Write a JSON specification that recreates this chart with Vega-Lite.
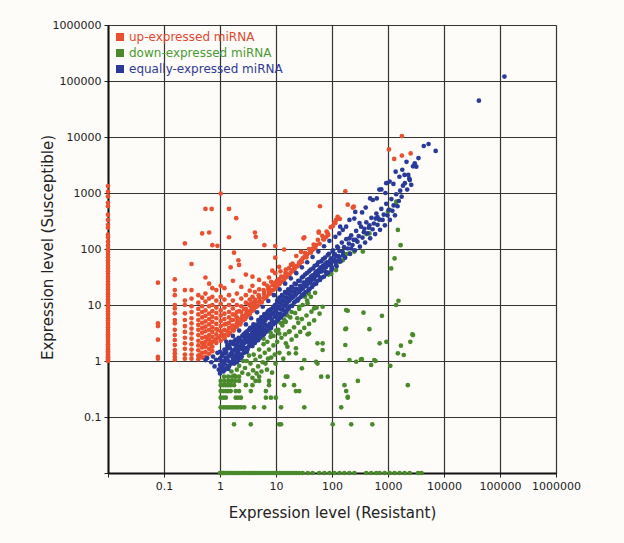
{
"$schema": "https://vega.github.io/schema/vega-lite/v6.json",
"width": 448, "height": 448,
"autosize": {"type": "none"},
"padding": {"left": 108, "top": 25, "right": 68, "bottom": 70},
"background": "#fdfcf9",
"config": {"view": {"stroke": null}, "font": "DejaVu Sans",
 "axis": {"labelFontSize": 11, "labelColor": "#222", "tickSize": 4, "tickColor": "#222", "domainColor": "#111", "domainWidth": 2, "gridColor": "#333", "gridWidth": 1.2, "gridOpacity": 1, "labelFlush": false, "labelPadding": 3, "titleFontSize": 15, "titleFontWeight": "normal", "titleColor": "#222"}},
"encoding": {
 "x": {"field": "x", "type": "quantitative", "scale": {"type": "log", "domain": [0.01, 1000000], "nice": false},
  "axis": {"title": "Expression level (Resistant)", "values": [0.01,0.1,1,10,100,1000,10000,100000,1000000], "format": "~f", "labelExpr": "datum.value < 0.05 ? '' : datum.label", "titlePadding": 14}},
 "y": {"field": "y", "type": "quantitative", "scale": {"type": "log", "domain": [0.01, 1000000], "nice": false},
  "axis": {"title": "Expression level (Susceptible)", "values": [0.01,0.1,1,10,100,1000,10000,100000,1000000], "format": "~f", "labelExpr": "datum.value < 0.05 ? '' : datum.label", "titleX": -53, "titleY": 222, "titleAngle": 270, "titleBaseline": "bottom", "titleAlign": "center"}}
},
"layer": [
{"data": {"values": [
{"x":0.01,"y":1},{"x":0.01,"y":1.05},{"x":0.01,"y":1.1},{"x":0.01,"y":1.15},{"x":0.01,"y":1.2},{"x":0.01,"y":1.3},{"x":0.01,"y":1.4},{"x":0.01,"y":1.5},{"x":0.01,"y":1.6},{"x":0.01,"y":1.7},{"x":0.01,"y":1.85},{"x":0.01,"y":2},{"x":0.01,"y":2.2},{"x":0.01,"y":2.4},{"x":0.01,"y":2.6},{"x":0.01,"y":2.8},{"x":0.01,"y":3},{"x":0.01,"y":3.3},{"x":0.01,"y":3.6},{"x":0.01,"y":4},{"x":0.01,"y":4.4},{"x":0.01,"y":4.8},{"x":0.01,"y":5.3},{"x":0.01,"y":5.8},{"x":0.01,"y":6.4},{"x":0.01,"y":7},{"x":0.01,"y":7.7},{"x":0.01,"y":8.5},{"x":0.01,"y":9.3},{"x":0.01,"y":10.2},{"x":0.01,"y":11.3},{"x":0.01,"y":12.5},{"x":0.01,"y":14},{"x":0.01,"y":15.5},{"x":0.01,"y":17},{"x":0.01,"y":19},{"x":0.01,"y":21},{"x":0.01,"y":23.5},{"x":0.01,"y":26},{"x":0.01,"y":29},{"x":0.01,"y":32},{"x":0.01,"y":36},{"x":0.01,"y":40},{"x":0.01,"y":45},{"x":0.01,"y":50},{"x":0.01,"y":56},{"x":0.01,"y":63},{"x":0.01,"y":71},{"x":0.01,"y":80},{"x":0.01,"y":90},{"x":0.01,"y":100},{"x":0.01,"y":115},{"x":0.01,"y":135},{"x":0.01,"y":160},{"x":0.01,"y":180},{"x":0.01,"y":240},{"x":0.01,"y":270},{"x":0.01,"y":330},{"x":0.01,"y":410},{"x":0.01,"y":580},{"x":0.01,"y":670},{"x":0.01,"y":870},{"x":0.01,"y":1060},{"x":0.01,"y":1330},
{"x":0.078,"y":25},{"x":0.078,"y":4.7},{"x":0.078,"y":4.2},{"x":0.078,"y":2.4},{"x":0.078,"y":1.19},{"x":0.078,"y":1.1},
{"x":0.156,"y":28.7},{"x":0.156,"y":18.5},{"x":0.156,"y":15},{"x":0.156,"y":10},{"x":0.156,"y":8.7},{"x":0.156,"y":7.1},{"x":0.156,"y":5.4},{"x":0.156,"y":4.7},{"x":0.156,"y":3.6},{"x":0.156,"y":2.9},{"x":0.156,"y":2.37},{"x":0.156,"y":1.93},{"x":0.156,"y":1.57},{"x":0.156,"y":1.37},{"x":0.156,"y":1.19},{"x":0.156,"y":1.05},
{"x":0.236,"y":126},{"x":0.236,"y":18.5},{"x":0.236,"y":12},{"x":0.236,"y":10},{"x":0.236,"y":7.1},{"x":0.236,"y":5.4},{"x":0.236,"y":4.2},{"x":0.236,"y":3.3},{"x":0.236,"y":2.6},{"x":0.236,"y":2.07},{"x":0.236,"y":1.65},{"x":0.236,"y":1.3},{"x":0.236,"y":1.1},
{"x":0.31,"y":54},{"x":0.31,"y":18.5},{"x":0.31,"y":13},{"x":0.31,"y":9.5},{"x":0.31,"y":7.5},{"x":0.31,"y":5.8},{"x":0.31,"y":4.7},{"x":0.31,"y":3.8},{"x":0.31,"y":3.1},{"x":0.31,"y":2.5},{"x":0.31,"y":2},{"x":0.31,"y":1.6},{"x":0.31,"y":1.3},{"x":0.31,"y":1.1},
{"x":0.41,"y":15},{"x":0.41,"y":11},{"x":0.41,"y":8.5},{"x":0.41,"y":6.8},{"x":0.41,"y":5.4},{"x":0.41,"y":4.4},{"x":0.41,"y":3.6},{"x":0.41,"y":2.9},{"x":0.41,"y":2.3},{"x":0.41,"y":1.9},{"x":0.41,"y":1.55},{"x":0.41,"y":1.25},{"x":0.41,"y":1.08},
{"x":0.48,"y":190},{"x":0.48,"y":13.5},{"x":0.48,"y":9.5},{"x":0.48,"y":7.5},{"x":0.48,"y":6},{"x":0.48,"y":4.8},{"x":0.48,"y":3.9},{"x":0.48,"y":3.2},{"x":0.48,"y":2.6},{"x":0.48,"y":2.1},{"x":0.48,"y":1.75},{"x":0.48,"y":1.4},{"x":0.48,"y":1.15},
{"x":0.55,"y":520},{"x":0.55,"y":31},{"x":0.55,"y":16},{"x":0.55,"y":11.5},{"x":0.55,"y":8},{"x":0.55,"y":6.4},{"x":0.55,"y":5.1},{"x":0.55,"y":4.1},{"x":0.55,"y":3.4},{"x":0.55,"y":2.7},{"x":0.55,"y":2.2},{"x":0.55,"y":1.8},{"x":0.55,"y":1.45},{"x":0.55,"y":1.2},
{"x":0.64,"y":197},{"x":0.64,"y":24},{"x":0.64,"y":13},{"x":0.64,"y":9.5},{"x":0.64,"y":7},{"x":0.64,"y":5.6},{"x":0.64,"y":4.5},{"x":0.64,"y":3.6},{"x":0.64,"y":2.9},{"x":0.64,"y":2.4},{"x":0.64,"y":2},{"x":0.64,"y":1.65},{"x":0.64,"y":1.35},
{"x":0.71,"y":520},
{"x":0.73,"y":117},{"x":0.73,"y":20},{"x":0.73,"y":14},{"x":0.73,"y":10},{"x":0.73,"y":7.8},{"x":0.73,"y":6.2},{"x":0.73,"y":5},{"x":0.73,"y":4},{"x":0.73,"y":3.3},{"x":0.73,"y":2.7},{"x":0.73,"y":2.2},{"x":0.73,"y":1.8},{"x":0.73,"y":1.5},
{"x":0.86,"y":18.5},{"x":0.86,"y":12},{"x":0.86,"y":9},{"x":0.86,"y":7.2},{"x":0.86,"y":5.8},{"x":0.86,"y":4.6},{"x":0.86,"y":3.7},{"x":0.86,"y":3},{"x":0.86,"y":2.5},{"x":0.86,"y":2.1},
{"x":0.9,"y":114},
{"x":1.03,"y":980},{"x":1.03,"y":22},{"x":1.03,"y":14},{"x":1.03,"y":10.5},{"x":1.03,"y":8},{"x":1.03,"y":6.5},{"x":1.03,"y":5.2},{"x":1.03,"y":4.2},{"x":1.03,"y":3.4},{"x":1.03,"y":2.8},{"x":1.03,"y":2.3},
{"x":1.2,"y":20},{"x":1.2,"y":12.5},{"x":1.2,"y":9},{"x":1.2,"y":7},{"x":1.2,"y":5.6},{"x":1.2,"y":4.5},{"x":1.2,"y":3.6},{"x":1.2,"y":2.9},{"x":1.2,"y":2.5},
{"x":1.45,"y":520},{"x":1.45,"y":162},{"x":1.45,"y":15},{"x":1.45,"y":10},{"x":1.45,"y":7.5},{"x":1.45,"y":6},{"x":1.45,"y":4.8},{"x":1.45,"y":3.9},{"x":1.45,"y":3.1},
{"x":1.55,"y":47},
{"x":1.7,"y":27},{"x":1.7,"y":12},{"x":1.7,"y":8.7},{"x":1.7,"y":6.8},{"x":1.7,"y":5.4},{"x":1.7,"y":4.3},{"x":1.7,"y":3.6},
{"x":1.78,"y":86},{"x":1.95,"y":355},
{"x":2,"y":16},{"x":2,"y":10},{"x":2,"y":7.5},{"x":2,"y":6},{"x":2,"y":4.7},{"x":2,"y":4.1},
{"x":2.13,"y":63},{"x":2.19,"y":52},
{"x":2.4,"y":21},{"x":2.4,"y":13},{"x":2.4,"y":9.5},{"x":2.4,"y":7.5},{"x":2.4,"y":5.8},{"x":2.4,"y":5},
{"x":2.9,"y":35},{"x":2.9,"y":15},{"x":2.9,"y":11},{"x":2.9,"y":8.5},{"x":2.9,"y":6.8},{"x":2.9,"y":6},
{"x":3.4,"y":18},{"x":3.4,"y":12.5},{"x":3.4,"y":9.8},{"x":3.4,"y":7.8},{"x":3.4,"y":7},
{"x":3.8,"y":32},{"x":3.8,"y":22},{"x":3.8,"y":14},{"x":3.8,"y":11},{"x":3.8,"y":9},
{"x":4.2,"y":197},{"x":4.2,"y":17},{"x":4.2,"y":12.5},{"x":4.2,"y":10},{"x":4.35,"y":165},
{"x":5,"y":28},{"x":5,"y":19},{"x":5,"y":14},{"x":5,"y":11.5},
{"x":6.2,"y":117},{"x":6.15,"y":24},{"x":6.15,"y":17},{"x":6.15,"y":13.5},
{"x":7.5,"y":20},{"x":7.5,"y":31},{"x":7.5,"y":17.5},{"x":8.6,"y":41},
{"x":9.7,"y":113},{"x":9.7,"y":70},{"x":9.7,"y":37},{"x":9.7,"y":25},{"x":9.7,"y":21},
{"x":11.4,"y":29},{"x":11.4,"y":48},{"x":12,"y":26},{"x":12,"y":40},{"x":14,"y":98},{"x":14,"y":32},{"x":14,"y":29},{"x":15,"y":43},{"x":15,"y":36},{"x":17,"y":34},{"x":17,"y":45},{"x":18.5,"y":52},{"x":19.7,"y":55},{"x":19.7,"y":42},{"x":21,"y":48},{"x":23,"y":75},{"x":23,"y":50},{"x":26,"y":58},{"x":28,"y":89},{"x":28,"y":62},{"x":30,"y":68},{"x":31,"y":155},{"x":32,"y":162},{"x":32,"y":72},{"x":36,"y":80},{"x":41,"y":90},{"x":45,"y":96},{"x":45,"y":102},{"x":52,"y":117},{"x":58,"y":195},{"x":58,"y":205},{"x":61,"y":580},{"x":70,"y":150},{"x":79,"y":165},{"x":84,"y":190},{"x":103,"y":255},{"x":110,"y":295},{"x":118,"y":330},{"x":126,"y":375},{"x":173,"y":1070},{"x":191,"y":620},{"x":235,"y":550},{"x":245,"y":570},{"x":1040,"y":6000},{"x":1290,"y":4060},{"x":1770,"y":10400},{"x":1770,"y":4650},{"x":2540,"y":5100},
{"x":1.2,"y":2.6},{"x":1.5,"y":3.2},{"x":1.8,"y":3.8},{"x":2.2,"y":4.6},{"x":2.6,"y":5.4},{"x":3.1,"y":6.5},{"x":3.7,"y":7.8},{"x":4.4,"y":9.2},{"x":5.2,"y":11},{"x":6.2,"y":13},{"x":7.4,"y":15.5},{"x":8.8,"y":18.5},{"x":10.5,"y":22},{"x":12.5,"y":26},{"x":15,"y":31},{"x":18,"y":37},{"x":21.5,"y":44},{"x":26,"y":53},
{"x":1.35,"y":3.4},{"x":1.65,"y":4.2},{"x":2.05,"y":5.3},{"x":2.5,"y":6.4},{"x":3,"y":7.6},{"x":3.6,"y":9.2},{"x":4.3,"y":11},{"x":5.1,"y":13.2},{"x":6.1,"y":15.8},{"x":7.3,"y":19},{"x":8.7,"y":22.5},{"x":10.4,"y":27},{"x":12.4,"y":32},{"x":14.8,"y":38},
{"x":1.1,"y":3},{"x":0.95,"y":2.6},{"x":0.8,"y":2.3},{"x":0.68,"y":2},{"x":1.4,"y":2.9},{"x":1.75,"y":3.5},{"x":2.3,"y":4.5},{"x":2.8,"y":5.6},{"x":3.4,"y":6.9},{"x":4,"y":8.2},{"x":4.7,"y":9.6},{"x":5.6,"y":11.3},{"x":6.7,"y":13.7},{"x":8,"y":16.2},{"x":9.6,"y":19.5},{"x":11.5,"y":23.5},{"x":13.8,"y":28},{"x":16.5,"y":34},{"x":19.8,"y":40.5},{"x":24,"y":49},{"x":29,"y":59},{"x":35,"y":71},{"x":42,"y":86},{"x":50,"y":103},{"x":60,"y":124},{"x":72,"y":148},{"x":86,"y":178},
{"x":33,"y":85},{"x":39,"y":100},{"x":47,"y":120},{"x":56,"y":145},{"x":67,"y":172},{"x":80,"y":205},{"x":95,"y":245},{"x":115,"y":290},{"x":138,"y":345},
{"x":2.7,"y":8.5},{"x":3.3,"y":10.3},{"x":4.9,"y":15},{"x":6,"y":18.5},{"x":7,"y":22},{"x":8.2,"y":26},{"x":1.6,"y":5.4},{"x":1.9,"y":6.5},{"x":2.2,"y":7.8},{"x":1.3,"y":4.6},{"x":0.9,"y":3.6},{"x":0.6,"y":2.5},{"x":0.52,"y":1.9},{"x":0.45,"y":1.3}
]},
 "mark": {"type": "circle", "size": 22, "opacity": 1},
 "encoding": {"color": {"datum": "up-expressed miRNA", "type": "nominal",
  "scale": {"domain": ["up-expressed miRNA", "down-expressed miRNA", "equally-expressed miRNA"], "range": ["#e8502f", "#4a8a2c", "#2a3a98"]},
  "legend": {"title": null, "orient": "top-left", "offset": 6, "symbolType": "square", "symbolSize": 64, "symbolStrokeWidth": 0, "labelFontSize": 12, "labelFont": "DejaVu Sans", "rowPadding": 4, "labelOffset": 3, "padding": 0,
   "labelColor": {"expr": "datum.value == 'up-expressed miRNA' ? '#e0472e' : datum.value == 'down-expressed miRNA' ? '#4c9a34' : '#2e3a92'"}}}}
},
{"data": {"values": [
{"x":1,"y":0.01},{"x":1.05,"y":0.01},{"x":1.1,"y":0.01},{"x":1.15,"y":0.01},{"x":1.2,"y":0.01},{"x":1.27,"y":0.01},{"x":1.35,"y":0.01},{"x":1.45,"y":0.01},{"x":1.55,"y":0.01},{"x":1.65,"y":0.01},{"x":1.75,"y":0.01},{"x":1.9,"y":0.01},{"x":2.05,"y":0.01},{"x":2.2,"y":0.01},{"x":2.4,"y":0.01},{"x":2.6,"y":0.01},{"x":2.8,"y":0.01},{"x":3,"y":0.01},{"x":3.3,"y":0.01},{"x":3.6,"y":0.01},{"x":3.9,"y":0.01},{"x":4.3,"y":0.01},{"x":4.7,"y":0.01},{"x":5.1,"y":0.01},{"x":5.6,"y":0.01},{"x":6.1,"y":0.01},{"x":6.7,"y":0.01},{"x":7.3,"y":0.01},{"x":8,"y":0.01},{"x":8.8,"y":0.01},{"x":9.6,"y":0.01},{"x":10.5,"y":0.01},{"x":11.5,"y":0.01},{"x":12.7,"y":0.01},{"x":14,"y":0.01},{"x":15.5,"y":0.01},{"x":17,"y":0.01},{"x":19,"y":0.01},{"x":21,"y":0.01},{"x":23,"y":0.01},{"x":26,"y":0.01},{"x":30,"y":0.01},{"x":37,"y":0.01},{"x":45,"y":0.01},{"x":59,"y":0.01},{"x":73,"y":0.01},{"x":90,"y":0.01},{"x":110,"y":0.01},{"x":136,"y":0.01},{"x":166,"y":0.01},{"x":204,"y":0.01},{"x":251,"y":0.01},{"x":408,"y":0.01},{"x":500,"y":0.01},{"x":616,"y":0.01},{"x":709,"y":0.01},{"x":871,"y":0.01},{"x":1070,"y":0.01},{"x":1310,"y":0.01},{"x":1610,"y":0.01},{"x":1980,"y":0.01},{"x":2440,"y":0.01},{"x":3440,"y":0.01},{"x":3950,"y":0.01},
{"x":1.78,"y":0.074},{"x":3.55,"y":0.074},{"x":11.4,"y":0.074},{"x":12.3,"y":0.074},{"x":103,"y":0.074},{"x":220,"y":0.074},{"x":525,"y":0.074},
{"x":1.03,"y":0.149},{"x":1.15,"y":0.149},{"x":1.27,"y":0.149},{"x":1.4,"y":0.149},{"x":1.55,"y":0.149},{"x":1.72,"y":0.149},{"x":1.91,"y":0.149},{"x":2.1,"y":0.149},{"x":2.36,"y":0.149},{"x":2.7,"y":0.149},{"x":4.06,"y":0.149},{"x":6.15,"y":0.149},{"x":12.3,"y":0.149},{"x":32,"y":0.149},{"x":146,"y":0.149},
{"x":1.03,"y":0.221},{"x":1.15,"y":0.221},{"x":1.27,"y":0.221},{"x":1.91,"y":0.221},{"x":2.1,"y":0.221},{"x":2.36,"y":0.221},{"x":6.6,"y":0.221},{"x":8.1,"y":0.221},{"x":9.9,"y":0.221},{"x":191,"y":0.221},
{"x":1.03,"y":0.29},{"x":1.15,"y":0.29},{"x":1.27,"y":0.29},{"x":1.4,"y":0.29},{"x":1.55,"y":0.29},{"x":1.91,"y":0.29},{"x":2.19,"y":0.29},{"x":3.55,"y":0.29},{"x":6.6,"y":0.29},{"x":22.7,"y":0.29},{"x":26,"y":0.29},{"x":179,"y":0.29},
{"x":1.03,"y":0.37},{"x":1.15,"y":0.37},{"x":1.27,"y":0.37},{"x":1.4,"y":0.37},{"x":1.55,"y":0.37},{"x":1.78,"y":0.37},{"x":2.9,"y":0.37},{"x":3.8,"y":0.37},{"x":7.5,"y":0.37},{"x":14,"y":0.37},{"x":21,"y":0.37},{"x":167,"y":0.37},{"x":2260,"y":0.37},
{"x":1.03,"y":0.44},{"x":1.2,"y":0.44},{"x":1.4,"y":0.44},{"x":1.6,"y":0.44},{"x":1.85,"y":0.44},{"x":2.19,"y":0.44},{"x":4.3,"y":0.44},{"x":5,"y":0.44},{"x":7.5,"y":0.44},{"x":290,"y":0.44},
{"x":1.18,"y":0.525},{"x":1.4,"y":0.525},{"x":1.65,"y":0.525},{"x":1.9,"y":0.525},{"x":2.19,"y":0.525},{"x":5,"y":0.525},{"x":15,"y":0.525},{"x":16,"y":0.525},{"x":64,"y":0.525},{"x":84,"y":0.525},
{"x":2.5,"y":0.62},{"x":2.8,"y":0.75},{"x":3.2,"y":0.58},{"x":3.5,"y":0.9},{"x":3.9,"y":0.68},{"x":4.3,"y":1.05},{"x":4.8,"y":0.8},{"x":5.2,"y":1.2},{"x":5.8,"y":0.95},{"x":6.3,"y":1.4},{"x":6.9,"y":0.7},{"x":7.5,"y":1.6},{"x":8.2,"y":1.15},{"x":9,"y":1.9},{"x":9.8,"y":0.9},{"x":10.5,"y":2.2},{"x":11.5,"y":1.4},{"x":12.5,"y":2.6},{"x":13.5,"y":1.1},{"x":14.5,"y":3},{"x":16,"y":1.8},{"x":17.5,"y":3.4},{"x":19,"y":2.4},{"x":21,"y":4},{"x":23,"y":2.8},{"x":25,"y":4.8},{"x":27,"y":3.3},{"x":29,"y":5.6},{"x":32,"y":3.9},{"x":35,"y":6.5},{"x":39,"y":4.6},{"x":43,"y":7.6},{"x":48,"y":5.3},{"x":53,"y":9},{"x":60,"y":7},
{"x":2.2,"y":0.82},{"x":1.8,"y":0.55},{"x":2,"y":0.7},{"x":1.6,"y":0.65},{"x":3,"y":1},{"x":4,"y":1.3},{"x":6,"y":2},{"x":8,"y":2.7},{"x":11,"y":3.6},{"x":13,"y":4.3},{"x":15,"y":5},{"x":18,"y":6},{"x":22,"y":7.2},{"x":26,"y":8.5},{"x":30,"y":10},{"x":36,"y":12},{"x":42,"y":14},{"x":50,"y":16.5},{"x":38,"y":16},{"x":33,"y":14},{"x":24,"y":5.8},{"x":11.4,"y":6.2},{"x":26,"y":9.3},{"x":36.7,"y":10.7},{"x":48,"y":8.7},{"x":68,"y":9.3},{"x":39,"y":3.1},{"x":55,"y":2.07},{"x":68,"y":2.07},{"x":68,"y":1.57},{"x":22.7,"y":1.69},{"x":15,"y":2.07},{"x":17,"y":1.37},{"x":11.4,"y":3.1},{"x":13,"y":4.7},{"x":17,"y":3.3},{"x":32,"y":1.04},{"x":52,"y":0.97},{"x":55,"y":0.9},{"x":29,"y":0.74},{"x":22.7,"y":1.37},{"x":36.7,"y":3},
{"x":179,"y":8.1},{"x":179,"y":3.8},{"x":173,"y":1.93},{"x":191,"y":0.23},{"x":205,"y":1.04},{"x":330,"y":1.07},{"x":570,"y":1.04},{"x":500,"y":0.85},
{"x":2.6,"y":1},{"x":3.3,"y":1.25},{"x":3.8,"y":0.5},{"x":4.5,"y":0.6},{"x":5.5,"y":0.65},{"x":6.5,"y":0.9},{"x":7.2,"y":1.1},{"x":8.5,"y":0.62},{"x":9.5,"y":1.3},{"x":5,"y":1.6},{"x":6,"y":2.5},{"x":7,"y":2.2},{"x":8,"y":3.2},{"x":9,"y":2.8},{"x":10,"y":3.5},{"x":12,"y":4.8},{"x":14,"y":5.5},{"x":16,"y":6.5},{"x":19,"y":7.5},
{"x":1400,"y":700},{"x":1400,"y":610},{"x":1070,"y":500},{"x":1000,"y":465},{"x":710,"y":330},{"x":466,"y":190},{"x":410,"y":185},{"x":355,"y":90},{"x":250,"y":90},{"x":205,"y":84},{"x":180,"y":81},{"x":156,"y":63},{"x":135,"y":59},{"x":118,"y":42},{"x":97,"y":36},{"x":87,"y":35},{"x":38,"y":16.5},
{"x":1500,"y":219},{"x":1680,"y":117},{"x":1310,"y":68},{"x":1140,"y":45},{"x":1540,"y":11.9},{"x":1400,"y":10},{"x":191,"y":7.9},{"x":365,"y":7.3},{"x":780,"y":6.4},{"x":173,"y":3.7},{"x":466,"y":3.7},{"x":2720,"y":3},{"x":2500,"y":2.2},{"x":710,"y":2.07},{"x":935,"y":2.2},{"x":1700,"y":1.88},{"x":1500,"y":1.37},{"x":1910,"y":1.28},{"x":270,"y":0.97},{"x":340,"y":1.08},{"x":600,"y":1},{"x":1100,"y":0.82},{"x":2800,"y":2.9}
]},
 "mark": {"type": "circle", "size": 22, "opacity": 1},
 "encoding": {"color": {"datum": "down-expressed miRNA", "type": "nominal"}}
},
{"data": {"values": [
{"x":0.55,"y":1.04},{"x":0.59,"y":1.13},{"x":0.7,"y":0.95},{"x":0.75,"y":1.2},{"x":0.8,"y":0.8},{"x":0.85,"y":1.05},{"x":0.9,"y":1.4},{"x":0.95,"y":0.7},{"x":1,"y":0.6},{"x":1,"y":0.85},{"x":1,"y":1.1},{"x":1,"y":1.45},{"x":1.05,"y":0.75},{"x":1.1,"y":1},{"x":1.1,"y":1.3},{"x":1.15,"y":0.65},{"x":1.2,"y":0.9},{"x":1.2,"y":1.6},{"x":1.25,"y":1.15},{"x":1.3,"y":0.75},{"x":1.3,"y":1.4},{"x":1.35,"y":1.9},{"x":1.4,"y":1},{"x":1.45,"y":0.8},{"x":1.5,"y":1.25},{"x":1.5,"y":1.7},{"x":1.55,"y":2.2},{"x":1.6,"y":0.9},{"x":1.65,"y":1.45},{"x":1.7,"y":1.1},{"x":1.75,"y":2},{"x":1.8,"y":0.95},{"x":1.85,"y":1.6},{"x":1.9,"y":2.4},{"x":1.95,"y":1.25},{"x":2,"y":0.95},{"x":2,"y":1.9},{"x":2.1,"y":1.45},{"x":2.15,"y":2.6},{"x":2.2,"y":1.15},{"x":2.3,"y":1.75},{"x":2.35,"y":2.2},{"x":2.4,"y":1.3},{"x":2.5,"y":2.8},{"x":2.55,"y":1.6},{"x":2.6,"y":2},{"x":2.7,"y":1.4},{"x":2.8,"y":2.5},{"x":2.85,"y":3.2},{"x":2.9,"y":1.7},{"x":3,"y":2.2},{"x":3.1,"y":1.6},{"x":3.2,"y":2.9},{"x":3.3,"y":3.6},{"x":3.4,"y":2},{"x":3.5,"y":2.5},{"x":3.6,"y":1.9},{"x":3.7,"y":3.1},{"x":3.8,"y":4},{"x":3.9,"y":2.3},{"x":4,"y":2.8},{"x":4.1,"y":3.5},{"x":4.2,"y":2.1},{"x":4.4,"y":4.4},{"x":4.5,"y":3},{"x":4.6,"y":2.5},{"x":4.8,"y":3.8},{"x":4.9,"y":5},{"x":5,"y":2.8},{"x":5.2,"y":4.3},{"x":5.3,"y":3.2},{"x":5.5,"y":5.5},{"x":5.6,"y":3.7},{"x":5.8,"y":2.9},{"x":6,"y":4.8},{"x":6.1,"y":6.3},{"x":6.3,"y":3.6},{"x":6.5,"y":5.4},{"x":6.7,"y":4.2},{"x":6.9,"y":7},{"x":7,"y":3.5},{"x":7.3,"y":5.9},{"x":7.5,"y":8},{"x":7.7,"y":4.6},{"x":8,"y":6.6},{"x":8.2,"y":3.9},{"x":8.5,"y":5.3},{"x":8.8,"y":8.8},{"x":9,"y":7},{"x":9.3,"y":4.8},{"x":9.6,"y":10},{"x":10,"y":6},{"x":10.2,"y":8.2},{"x":10.5,"y":12},{"x":10.8,"y":5.4},{"x":11.2,"y":9.2},{"x":11.5,"y":13.5},{"x":12,"y":7},{"x":12.3,"y":10.8},{"x":12.8,"y":15},{"x":13.2,"y":8.2},{"x":13.6,"y":12},{"x":14,"y":6.8},{"x":14.5,"y":17},{"x":15,"y":10},{"x":15.5,"y":13.5},{"x":16,"y":8.5},{"x":16.5,"y":19},{"x":17,"y":11.8},{"x":17.5,"y":15.5},{"x":18,"y":9.5},{"x":18.8,"y":21},{"x":19.5,"y":13.5},{"x":20,"y":17.5},{"x":21,"y":11},{"x":21.5,"y":24},{"x":22,"y":15},{"x":23,"y":19.5},{"x":24,"y":12.5},{"x":25,"y":27},{"x":26,"y":17},{"x":27,"y":22},{"x":28,"y":14},{"x":29,"y":31},{"x":30,"y":19.5},{"x":31,"y":25},{"x":32,"y":16},{"x":33,"y":35},{"x":35,"y":22},{"x":36,"y":28},{"x":38,"y":18.5},{"x":39,"y":40},{"x":41,"y":25},{"x":42,"y":32},{"x":44,"y":21},{"x":46,"y":45},{"x":48,"y":29},{"x":50,"y":37},{"x":52,"y":24},{"x":54,"y":52},{"x":56,"y":34},{"x":59,"y":43},{"x":61,"y":28},{"x":64,"y":60},{"x":66,"y":40},{"x":69,"y":50},{"x":72,"y":32},{"x":75,"y":70},{"x":78,"y":47},{"x":81,"y":58},{"x":85,"y":38},{"x":88,"y":82},{"x":92,"y":55},{"x":96,"y":68},{"x":100,"y":45},{"x":104,"y":95},{"x":108,"y":64},{"x":113,"y":80},{"x":118,"y":52},{"x":124,"y":110},{"x":130,"y":75},{"x":136,"y":92},{"x":142,"y":60},{"x":150,"y":130},{"x":156,"y":88},{"x":164,"y":108},{"x":172,"y":70},{"x":180,"y":150},{"x":190,"y":102},{"x":200,"y":125},{"x":210,"y":82},{"x":220,"y":175},{"x":232,"y":118},{"x":244,"y":145},{"x":256,"y":95},{"x":270,"y":210},{"x":285,"y":135},{"x":300,"y":170},{"x":315,"y":110},{"x":330,"y":250},{"x":350,"y":160},{"x":370,"y":200},{"x":390,"y":130},{"x":410,"y":300},{"x":430,"y":190},{"x":455,"y":240},{"x":480,"y":155},{"x":505,"y":360},{"x":530,"y":225},{"x":560,"y":285},{"x":590,"y":185},{"x":620,"y":430},{"x":650,"y":270},{"x":690,"y":340},{"x":720,"y":220},{"x":760,"y":520},{"x":800,"y":330},{"x":840,"y":410},{"x":880,"y":265},{"x":930,"y":640},{"x":980,"y":400},{"x":1030,"y":500},{"x":1080,"y":330},{"x":1150,"y":780},{"x":1200,"y":480},{"x":1260,"y":600},{"x":1330,"y":400},{"x":1400,"y":950},{"x":1480,"y":580},{"x":1560,"y":720},{"x":1650,"y":1100},{"x":1750,"y":860},{"x":1850,"y":1350},{"x":2000,"y":1500},{"x":2200,"y":1150},{"x":2400,"y":1800},{"x":2600,"y":1400},{"x":4350,"y":6900},{"x":5300,"y":7500},{"x":7100,"y":5650},{"x":42000,"y":44500},{"x":120000,"y":120000},
{"x":2140,"y":3600},{"x":3000,"y":3400},{"x":3200,"y":2950},{"x":1970,"y":2100},{"x":2450,"y":1700},{"x":1370,"y":2400},{"x":1600,"y":1950},{"x":1070,"y":1600},{"x":930,"y":1500},{"x":760,"y":1160},{"x":630,"y":800},{"x":535,"y":750},{"x":400,"y":550},{"x":345,"y":450},{"x":250,"y":350},{"x":205,"y":330},{"x":179,"y":250},{"x":156,"y":220},{"x":135,"y":190},{"x":115,"y":165},{"x":310,"y":290},{"x":466,"y":265},{"x":650,"y":370},{"x":265,"y":145},{"x":205,"y":155},{"x":220,"y":102},
{"x":140,"y":250},{"x":260,"y":460},{"x":480,"y":800},{"x":700,"y":1150},{"x":380,"y":230},{"x":600,"y":350},{"x":900,"y":1000},{"x":1250,"y":1450},{"x":1800,"y":2600},{"x":2300,"y":2100},{"x":2800,"y":3000},{"x":3500,"y":4200},
{"x":1.3,"y":2.2},{"x":1.7,"y":2.8},{"x":2.2,"y":3.5},{"x":2.9,"y":4.5},{"x":3.6,"y":5.8},{"x":4.6,"y":7.4},{"x":5.8,"y":9.3},{"x":7.3,"y":11.8},{"x":9.2,"y":15},{"x":11.6,"y":19},{"x":14.6,"y":24},{"x":18.4,"y":30},{"x":23,"y":37},{"x":29,"y":47},{"x":36,"y":58},{"x":45,"y":72},{"x":57,"y":90},{"x":72,"y":112},{"x":90,"y":140},
{"x":1.4,"y":0.72},{"x":1.8,"y":0.9},{"x":2.3,"y":1.12},{"x":3,"y":1.45},{"x":3.8,"y":1.85},{"x":4.8,"y":2.35},{"x":6.1,"y":3},{"x":7.7,"y":3.8},{"x":9.7,"y":4.8},{"x":12.2,"y":6},{"x":15.4,"y":7.6},{"x":19.4,"y":9.6},{"x":24.5,"y":12},{"x":31,"y":15.3},{"x":39,"y":19.2},{"x":49,"y":24},{"x":62,"y":30.5},{"x":78,"y":38.5},{"x":98,"y":48},{"x":124,"y":61},{"x":156,"y":77},
{"x":1.02,"y":0.72},{"x":1.08,"y":1.22},{"x":1.12,"y":0.82},{"x":1.18,"y":1.38},{"x":1.22,"y":0.7},{"x":1.28,"y":1.05},{"x":1.33,"y":1.65},{"x":1.38,"y":0.82},{"x":1.42,"y":1.2},{"x":1.48,"y":1.95},{"x":1.52,"y":0.95},{"x":1.58,"y":1.35},{"x":1.62,"y":2.1},{"x":1.68,"y":0.98},{"x":1.72,"y":1.55},{"x":1.78,"y":1.25},{"x":1.82,"y":2.3},{"x":1.88,"y":1.1},{"x":1.92,"y":1.7},{"x":1.98,"y":1.4},{"x":2.05,"y":2.15},{"x":2.12,"y":1.05},{"x":2.18,"y":1.6},{"x":2.25,"y":2.45},{"x":2.28,"y":1.3},{"x":2.38,"y":1.9},{"x":2.45,"y":1.2},{"x":2.52,"y":2.3},{"x":2.58,"y":1.75},{"x":2.65,"y":3},{"x":2.72,"y":1.55},{"x":2.78,"y":2.15},{"x":2.88,"y":2.7},{"x":2.95,"y":1.5},{"x":3.05,"y":3.4},{"x":3.15,"y":2.45},{"x":3.25,"y":1.8},{"x":3.35,"y":2.7},{"x":3.45,"y":3.9},{"x":3.55,"y":2.2},{"x":3.65,"y":2.65},{"x":3.75,"y":1.95},{"x":3.85,"y":3.4},{"x":3.95,"y":4.5},{"x":4.05,"y":2.4},{"x":4.15,"y":3.1},{"x":4.3,"y":3.8},{"x":4.4,"y":2.3},{"x":4.55,"y":4.1},{"x":4.7,"y":3.3},{"x":4.75,"y":2.7},{"x":4.85,"y":5.4},{"x":5.1,"y":3.6},{"x":5.2,"y":2.6},{"x":5.35,"y":4.8},{"x":5.45,"y":6},{"x":5.7,"y":4},{"x":5.9,"y":5.2},{"x":6,"y":3.2},{"x":6.2,"y":6.9},{"x":6.4,"y":4.5},{"x":6.6,"y":3.3},{"x":6.8,"y":5.9},{"x":7.1,"y":7.6},{"x":7.2,"y":4.2},{"x":7.6,"y":6.3},{"x":7.8,"y":3.9},{"x":8.1,"y":8.4},{"x":8.3,"y":5.6},{"x":8.6,"y":7.3},{"x":8.9,"y":4.5},{"x":9.2,"y":9.4},{"x":9.5,"y":6.3},{"x":9.8,"y":7.8},{"x":10.1,"y":5},{"x":10.4,"y":10.8},{"x":10.7,"y":7},{"x":11,"y":8.8},{"x":11.4,"y":5.8},{"x":11.8,"y":12},{"x":12.2,"y":8.5},{"x":12.6,"y":10.2},{"x":13,"y":6.6},{"x":13.4,"y":14},{"x":13.9,"y":9.5},{"x":14.3,"y":11.5},{"x":14.8,"y":7.6},{"x":15.3,"y":16},{"x":15.8,"y":11},{"x":16.3,"y":13},{"x":16.8,"y":8.6},{"x":17.3,"y":18},{"x":17.9,"y":12.5},{"x":18.4,"y":14.8},{"x":19,"y":9.8},{"x":19.7,"y":20.5},{"x":20.4,"y":14},{"x":21.2,"y":17},{"x":22,"y":11.5},{"x":22.7,"y":23.5},{"x":23.5,"y":16},{"x":24.5,"y":19},{"x":25.5,"y":13},{"x":26.5,"y":27},{"x":27.5,"y":18.5},{"x":28.5,"y":21.5},{"x":29.5,"y":15},{"x":30.5,"y":32},{"x":31.5,"y":21},{"x":33,"y":25},{"x":34,"y":17},{"x":35.5,"y":37},{"x":37,"y":24},{"x":38.5,"y":29},{"x":40,"y":19.5},{"x":41.5,"y":43},{"x":43,"y":28},{"x":45,"y":34},{"x":47,"y":23},{"x":49,"y":50},{"x":51,"y":33},{"x":53,"y":40},{"x":55,"y":27},{"x":57,"y":58},{"x":60,"y":39},{"x":63,"y":47},{"x":66,"y":31},{"x":69,"y":66},{"x":72,"y":45},{"x":76,"y":55},{"x":80,"y":36},{"x":84,"y":78},{"x":88,"y":52},{"x":93,"y":63},{"x":98,"y":42},{"x":103,"y":90},{"x":109,"y":60},{"x":115,"y":73},{"x":121,"y":49},{"x":128,"y":106},{"x":135,"y":70}
]},
 "mark": {"type": "circle", "size": 22, "opacity": 1},
 "encoding": {"color": {"datum": "equally-expressed miRNA", "type": "nominal"}}
}
]
}
